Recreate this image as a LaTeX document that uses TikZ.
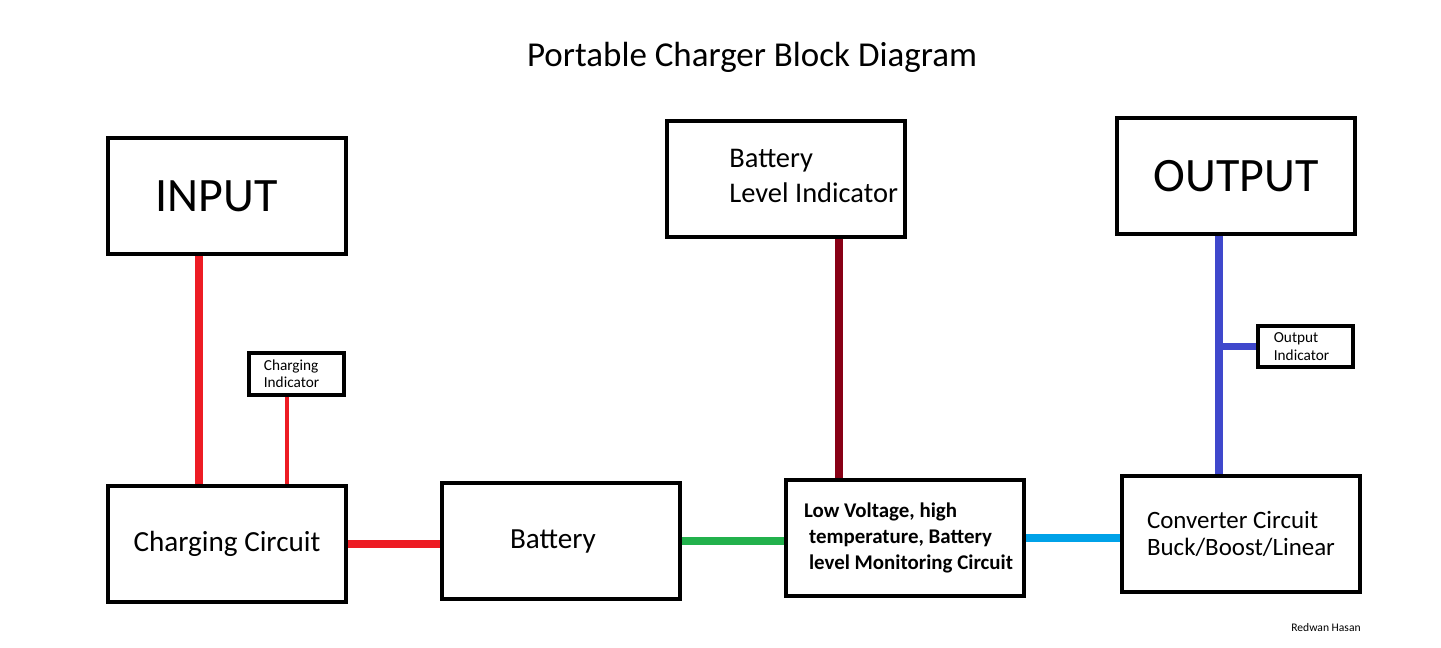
\documentclass[tikz,border=0pt]{standalone}
\usepackage{fontspec}
\setmainfont{Carlito}
\usepackage{tikz}
\usetikzlibrary{positioning,calc}
\definecolor{wirered}{HTML}{ED1C24}
\definecolor{wiregreen}{HTML}{22B14C}
\definecolor{wiremaroon}{HTML}{880015}
\definecolor{wirecyan}{HTML}{00A2E8}
\definecolor{wireblue}{HTML}{3F48CC}

\begin{document}
\begin{tikzpicture}[
    x=0.02cm, y=-0.02cm,
    block/.style={draw=black, line width=4*0.567pt, fill=white, minimum width=4.76cm,
                  minimum height=2.32cm, inner sep=0pt, font=\fontsize{16.6}{19}\selectfont, align=left},
    bigblock/.style={block, font=\fontsize{27.3}{30}\selectfont},
    smallblock/.style={block, minimum width=1.9cm, minimum height=0.83cm,
                       font=\fontsize{8.7}{9.8}\selectfont},
    wire/.style={line width=8*0.567pt},
    thinwire/.style={line width=5*0.567pt}
]
    \useasboundingbox (0,0) rectangle (1441,648);

    % Title
    \node[font=\fontsize{19.9}{22}\selectfont] (title) at (752,57) {Portable Charger Block Diagram};

    % Blocks
    \node[bigblock] (input) at (227,196) {INPUT\hspace*{0.42cm}};
    \node[block] (charging) at (227,544) {Charging Circuit};
    \node[block] (battery) at (561,541) {Battery\hspace*{0.32cm}};
    \node[block, font=\bfseries\fontsize{11.9}{14.8}\selectfont] (monitor) at (905,538)
        {\hspace*{0.14cm}Low Voltage, high\\\hspace*{0.24cm}temperature, Battery\\\hspace*{0.24cm}level Monitoring Circuit};
    \node[block, font=\fontsize{14.2}{15.3}\selectfont] (converter) at (1241,534)
        {Converter Circuit\\Buck/Boost/Linear};
    \node[block] (bli) at (786,179) {};
    \node[anchor=west, align=left, font=\fontsize{16.2}{19.8}\selectfont, inner sep=0pt] (bliText)
        at ($(bli.west)+(64,-3)$) {Battery\\Level Indicator};
    \node[bigblock] (output) at (1236,176) {OUTPUT};
    \node[smallblock] (chgind) at (296.5,374) {Charging\\Indicator\hspace*{0.2cm}};
    \node[smallblock] (outind) at (1305.5,346.5) {Output\\Indicator\hspace*{0.16cm}};

    % Tap points
    \coordinate (tapIn) at (199,0);
    \coordinate (tapInd) at (287,0);
    \coordinate (tapBli) at (839,0);
    \coordinate (tapOut) at (1219,0);

    % Connections
    \draw[wire, wirered] (tapIn |- input.south) -- (tapIn |- charging.north);
    \draw[thinwire, wirered] (tapInd |- chgind.south) -- (tapInd |- charging.north);
    \draw[wire, wirered] (charging.east) -- (charging.east -| battery.west);
    \draw[wire, wiregreen] (battery.east) -- (battery.east -| monitor.west);
    \draw[wire, wiremaroon] (tapBli |- bli.south) -- (tapBli |- monitor.north);
    \draw[wire, wirecyan] (monitor.east) -- (monitor.east -| converter.west);
    \draw[wire, wireblue] (tapOut |- output.south) -- (tapOut |- converter.north);
    \draw[wire, wireblue] (tapOut |- outind.west) -- (outind.west);

    % Credit
    \node[font=\fontsize{6.6}{7}\selectfont] (credit) at (1326,628) {Redwan Hasan};
\end{tikzpicture}
\end{document}
